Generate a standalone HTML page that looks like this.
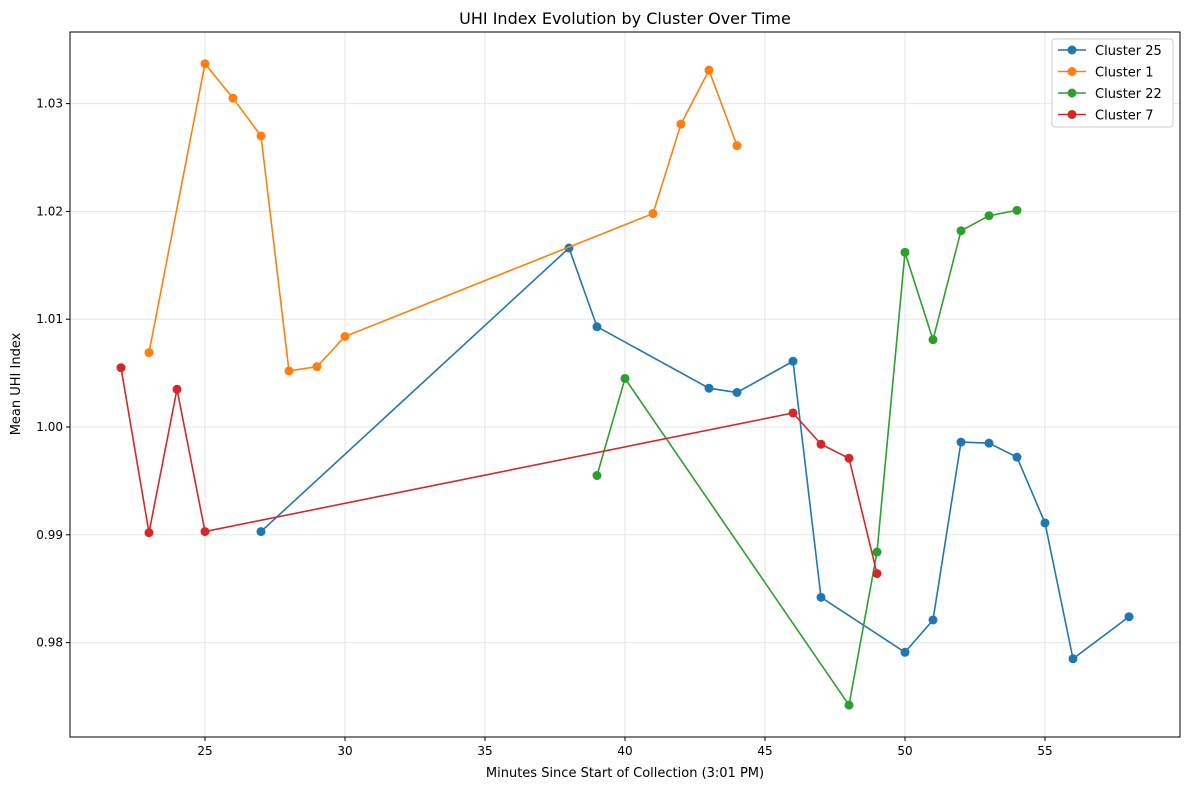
<!DOCTYPE html>
<html><head><meta charset="utf-8"><style>
body{margin:0;background:#fff;font-family:"Liberation Sans","DejaVu Sans",sans-serif;}
svg text{font-family:"DejaVu Sans","Liberation Sans",sans-serif;}
</style></head><body>
<svg id="chart" width="1189" height="790" xmlns="http://www.w3.org/2000/svg"></svg>
<script>
const xTicks=[25,30,35,40,45,50,55];
const yTicks=[0.98,0.99,1.00,1.01,1.02,1.03];
const yTickLabels=["0.98","0.99","1.00","1.01","1.02","1.03"];
const seriesNames=["Cluster 25","Cluster 1","Cluster 22","Cluster 7"];
const seriesColors=["#1f77b4","#ff7f0e","#2ca02c","#d62728"];
const c25x=[27,38,39,43,44,46,47,50,51,52,53,54,55,56,58];
const c25y=[0.9903,1.0166,1.0093,1.0036,1.0032,1.0061,0.9842,0.9791,0.9821,0.9986,0.9985,0.9972,0.9911,0.9785,0.9824];
const c1x=[23,25,26,27,28,29,30,41,42,43,44];
const c1y=[1.0069,1.0337,1.0305,1.0270,1.0052,1.0056,1.0084,1.0198,1.0281,1.0331,1.0261];
const c22x=[39,40,48,49,50,51,52,53,54];
const c22y=[0.9955,1.0045,0.9742,0.9884,1.0162,1.0081,1.0182,1.0196,1.0201];
const c7x=[22,23,24,25,46,47,48,49];
const c7y=[1.0055,0.9902,1.0035,0.9903,1.0013,0.9984,0.9971,0.9864];

const svg=document.getElementById('chart');
const NS='http://www.w3.org/2000/svg';
const L=70,R=1180,T=32,B=737;
function X(v){return 205+(v-25)*28;}
function Y(v){return 427-(v-1)*10780;}
function mk(tag,attrs,parent){const e=document.createElementNS(NS,tag);for(const k in attrs)e.setAttribute(k,attrs[k]);(parent||svg).appendChild(e);return e;}

// grid
xTicks.forEach(t=>{const g=mk('line',{x1:X(t),x2:X(t),y1:T,y2:B,stroke:'#e6e6e6','stroke-width':1});


const tk=mk('line',{x1:X(t),x2:X(t),y1:B,y2:B+4,stroke:'#000'});


const tx=mk('text',{x:X(t),y:B+18,'font-size':12,'text-anchor':'middle'});tx.textContent=t;

});
yTicks.forEach((t,i)=>{const g=mk('line',{x1:L,x2:R,y1:Y(t),y2:Y(t),stroke:'#e6e6e6','stroke-width':1});


const tk=mk('line',{x1:L-4,x2:L,y1:Y(t),y2:Y(t),stroke:'#000'});


const tx=mk('text',{x:L-7,y:Y(t)+4,'font-size':12,'text-anchor':'end'});tx.textContent=yTickLabels[i];

});

const frame=mk('rect',{x:L,y:T,width:R-L,height:B-T,fill:'none',stroke:'#000','stroke-width':1});



const data=[[c25x,c25y],[c1x,c1y],[c22x,c22y],[c7x,c7y]];
data.forEach((d,i)=>{
 const g=mk('g',{});
 
 
 const pts=d[0].map((x,j)=>X(x)+','+Y(d[1][j])).join(' ');
 const pl=mk('polyline',{points:pts,fill:'none',stroke:seriesColors[i],'stroke-width':1.6},g);
 
 
 d[0].forEach((x,j)=>{const c=mk('circle',{cx:X(x),cy:Y(d[1][j]),r:4.5,fill:seriesColors[i]},g);
 
 });
});

const title=mk('text',{x:625,y:24,'font-size':16,'text-anchor':'middle'});title.textContent='UHI Index Evolution by Cluster Over Time';


const xl=mk('text',{x:625,y:777,'font-size':13,'text-anchor':'middle'});xl.textContent='Minutes Since Start of Collection (3:01 PM)';


const yl=mk('text',{x:20,y:384,'font-size':13,'text-anchor':'middle',transform:'rotate(-90 20 384)'});yl.textContent='Mean UHI Index';



const lg=mk('g',{});


mk('rect',{x:1052,y:39,width:121,height:88,rx:3,fill:'#fff',stroke:'#ccc'},lg);
seriesNames.forEach((n,i)=>{const yy=50+i*21.5;
 const e=mk('g',{},lg);
 
 
 mk('line',{x1:1058,x2:1086,y1:yy,y2:yy,stroke:seriesColors[i],'stroke-width':1.6},e);
 mk('circle',{cx:1072,cy:yy,r:4.5,fill:seriesColors[i]},e);
 const t=mk('text',{x:1095,y:yy+5,'font-size':13},e);t.textContent=n;});
</script>
</body></html>
